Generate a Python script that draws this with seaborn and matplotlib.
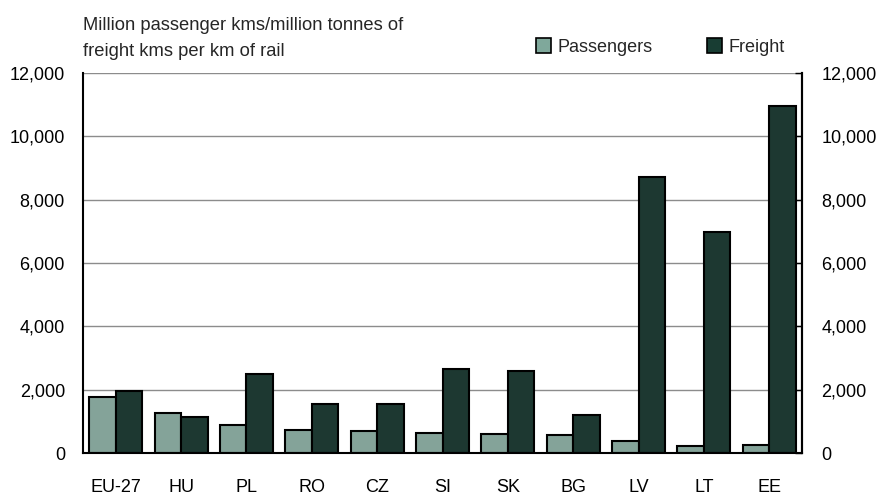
import matplotlib
matplotlib.use("Agg")
import matplotlib.pyplot as plt
import seaborn as sns
import pandas as pd
from matplotlib.patches import Patch
from matplotlib.ticker import FuncFormatter

countries = ["EU-27", "HU", "PL", "RO", "CZ", "SI", "SK", "BG", "LV", "LT", "EE"]
passengers = [1760, 1250, 890, 740, 700, 635, 590, 560, 390, 230, 250]
freight = [1950, 1150, 2500, 1545, 1555, 2655, 2590, 1215, 8715, 6980, 10956]
series_names = ["Passengers", "Freight"]
yticks = [0, 2000, 4000, 6000, 8000, 10000, 12000]
title_lines = ["Million passenger kms/million tonnes of", "freight kms per km of rail"]

colors = {"Passengers": "#7FA89B", "Freight": "#183D33"}

df = pd.DataFrame({
    "country": countries * 2,
    "value": passengers + freight,
    "series": [series_names[0]] * len(countries) + [series_names[1]] * len(countries),
})

sns.set_theme(style="white")
FONT = ["Liberation Sans", "DejaVu Sans"]
plt.rcParams["font.family"] = FONT

fig = plt.figure(figsize=(8.77, 4.95), dpi=100)
ax = fig.add_axes([83 / 877, 1 - 453 / 495, (802 - 83) / 877, (453 - 73) / 495])

sns.barplot(data=df, x="country", y="value", hue="series", palette=colors,
            order=countries, hue_order=series_names, width=0.81,
            edgecolor="black", linewidth=1.5, ax=ax, legend=False)

ax.set_ylim(0, 12000)
ax.set_xlim(-0.5, len(countries) - 0.5)
ax.set_yticks(yticks)
fmt = FuncFormatter(lambda v, p: f"{int(v):,}")
ax.yaxis.set_major_formatter(fmt)
ax.set_xlabel("")
ax.set_ylabel("")
ax.grid(axis="y", color="#8c8c8c", linewidth=1)
ax.set_axisbelow(True)
for s in ["left", "right", "bottom"]:
    ax.spines[s].set_color("black")
    ax.spines[s].set_linewidth(1.5)
ax.spines["top"].set_visible(False)
ax.tick_params(axis="y", left=False, length=0, labelsize=13, pad=13, colors="black")
ax.tick_params(axis="x", bottom=False, labelsize=13, pad=12.5, colors="black")

ax2 = ax.twinx()
ax2.set_ylim(0, 12000)
ax2.set_yticks(yticks)
ax2.yaxis.set_major_formatter(fmt)
ax2.tick_params(axis="y", right=True, direction="in", length=5, width=1,
                labelsize=13, pad=14, colors="black")
for s in ["left", "top", "bottom"]:
    ax2.spines[s].set_visible(False)
ax2.spines["right"].set_color("black")
ax2.spines["right"].set_linewidth(1.5)
ax2.grid(False)

fig.text(83 / 877, 1 - 25 / 495, title_lines[0], fontsize=13.2, va="center", ha="left")
fig.text(83 / 877, 1 - 52 / 495, title_lines[1], fontsize=13.2, va="center", ha="left")

handles = [Patch(facecolor=colors[n], edgecolor="black", linewidth=1.2) for n in series_names]
fig.legend(handles, series_names, loc="center left", bbox_to_anchor=(536 / 877, 1 - 47 / 495),
           ncol=2, frameon=False, fontsize=13, handlelength=0.85, handleheight=0.85,
           handletextpad=0.35, columnspacing=3.0, borderpad=0, borderaxespad=0)

fig.savefig("out.png", dpi=100)
